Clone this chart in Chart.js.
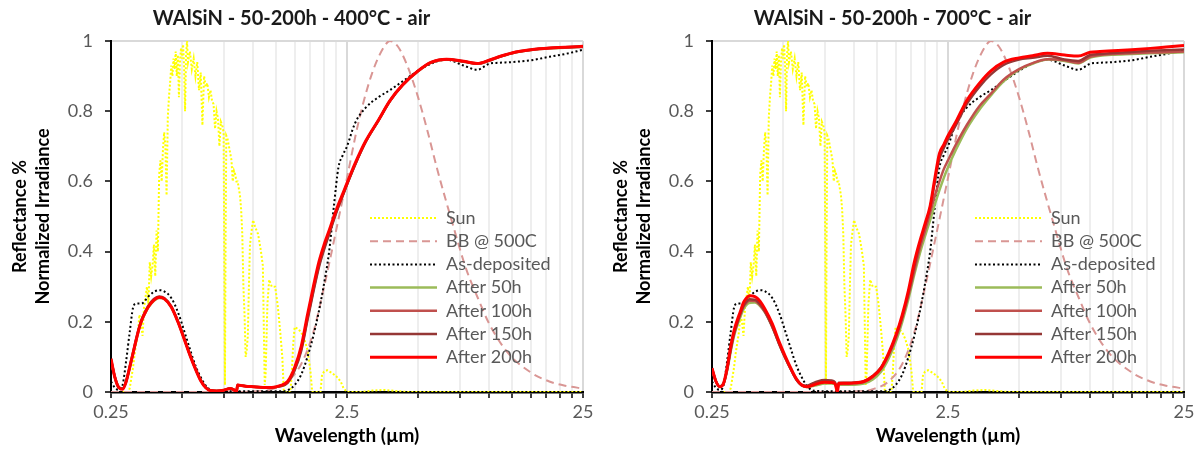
<!DOCTYPE html>
<html>
<head>
<meta charset="utf-8">
<script src="https://cdn.jsdelivr.net/npm/chart.js@4/dist/chart.umd.min.js"></script>
<style>
    body { margin: 0; background: #fff; width: 1201px; height: 450px; overflow: hidden; position: relative; }
    canvas { position: absolute; top: 0; }
    #left { left: 0; }
    #right { left: 601px; }
</style>
</head>
<body>
<canvas id="left" width="600" height="450"></canvas>
<canvas id="right" width="600" height="450"></canvas>
<script>
// x axis ticks (um), labels only on decades
const xTicks = [0.25, 0.5, 0.75, 1, 1.25, 1.5, 1.75, 2, 2.25, 2.5, 5, 7.5, 10, 12.5, 15, 17.5, 20, 22.5, 25]
const xMajor = [0.25, 2.5, 25]

// normalized solar irradiance
const sunWl = [0.28, 0.295, 0.3, 0.305, 0.31, 0.315, 0.32, 0.325, 0.33, 0.335, 0.34, 0.345, 0.35, 0.355, 0.36, 0.365, 0.37, 0.375, 0.38, 0.385, 0.39, 0.395,
    0.4, 0.405, 0.41, 0.415, 0.42, 0.425, 0.43, 0.435, 0.44, 0.445, 0.45, 0.455, 0.46, 0.465, 0.47, 0.475, 0.48, 0.485, 0.49, 0.495,
    0.5, 0.505, 0.51, 0.515, 0.52, 0.525, 0.53, 0.54, 0.55, 0.56, 0.57, 0.58, 0.59, 0.6, 0.61, 0.62, 0.63, 0.64, 0.65, 0.66, 0.67, 0.68, 0.69,
    0.7, 0.71, 0.72, 0.73, 0.74, 0.75, 0.76, 0.765, 0.77, 0.78, 0.79, 0.8, 0.81, 0.82, 0.83, 0.84, 0.85, 0.86, 0.87, 0.88, 0.89,
    0.9, 0.91, 0.92, 0.93, 0.94, 0.95, 0.96, 0.97, 0.99, 1.0, 1.02, 1.05, 1.08, 1.1, 1.12, 1.13, 1.15, 1.17, 1.2, 1.24, 1.27, 1.3, 1.33, 1.35,
    1.44, 1.46, 1.48, 1.5, 1.55, 1.6, 1.65, 1.7, 1.75, 1.78, 1.93, 1.96, 2.0, 2.06, 2.15, 2.25, 2.35, 2.42, 2.5, 2.9, 3.2, 3.6, 4.0, 4.5, 25]
const sunVal = [0, 0, 0.01, 0.04, 0.07, 0.11, 0.14, 0.17, 0.22, 0.2, 0.16, 0.24, 0.27, 0.3, 0.25, 0.37, 0.33, 0.36, 0.42, 0.33, 0.46, 0.4,
    0.62, 0.66, 0.6, 0.69, 0.74, 0.7, 0.56, 0.78, 0.84, 0.88, 0.93, 0.9, 0.95, 0.92, 0.97, 0.9, 0.96, 0.84, 0.94, 0.98,
    0.95, 0.99, 0.93, 0.8, 0.96, 1.0, 0.94, 0.97, 0.92, 0.95, 0.9, 0.94, 0.86, 0.91, 0.76, 0.9, 0.87, 0.88, 0.84, 0.86, 0.83, 0.82, 0.75,
    0.8, 0.78, 0.7, 0.77, 0.76, 0.74, 0.02, 0.45, 0.73, 0.72, 0.7, 0.68, 0.66, 0.6, 0.63, 0.62, 0.6, 0.6, 0.58, 0.56, 0.52,
    0.45, 0.3, 0.22, 0.1, 0.12, 0.16, 0.3, 0.42, 0.47, 0.49, 0.47, 0.45, 0.4, 0.36, 0.02, 0.05, 0.25, 0.32, 0.3, 0.3, 0.25, 0.18, 0.1, 0,
    0, 0.06, 0.14, 0.185, 0.18, 0.17, 0.15, 0.12, 0.06, 0, 0, 0.05, 0.058, 0.062, 0.055, 0.045, 0.03, 0.01, 0, 0, 0.004, 0.006, 0.003, 0, 0]

// black body at 500C, normalized
const bbWl = [0.25, 0.8, 1.0, 1.2, 1.4, 1.6, 1.8, 2.0, 2.2, 2.5, 2.8, 3.2, 3.6, 3.8, 4.1, 4.5, 5.0, 5.5, 6.0, 7.0, 8.0, 9.0, 10, 12, 15, 18, 21, 25]
const bbVal = [0, 0, 0.001, 0.008, 0.03, 0.08, 0.17, 0.3, 0.43, 0.61, 0.77, 0.91, 0.985, 1.0, 0.985, 0.93, 0.84, 0.74, 0.64, 0.48, 0.35, 0.265, 0.195, 0.112, 0.056, 0.03, 0.018, 0.01]

// reflectance wavelength grid (um)
const reflWl = [0.25, 0.26, 0.27, 0.28, 0.29, 0.3, 0.31, 0.32, 0.33, 0.34, 0.35, 0.36, 0.38, 0.4, 0.42, 0.45, 0.48, 0.51, 0.54, 0.57,
    0.6, 0.63, 0.66, 0.7, 0.75, 0.8, 0.83, 0.85, 0.86, 0.9, 0.95, 1.0, 1.1, 1.2, 1.3, 1.4, 1.5, 1.6, 1.7, 1.8, 1.9,
    2.0, 2.1, 2.2, 2.3, 2.4, 2.5, 2.7, 3.0, 3.4, 3.8, 4.3, 5.0, 5.7, 6.6, 7.8, 8.9, 10, 11, 12.5, 15, 18, 21, 25]

const asDep = [0.03, 0.012, 0.006, 0.02, 0.09, 0.17, 0.24, 0.252, 0.252, 0.253, 0.262, 0.272, 0.285, 0.29, 0.287, 0.268, 0.228, 0.175, 0.122, 0.075,
    0.042, 0.018, 0.006, 0.003, 0.002, 0.002, 0.002, 0.002, 0.002, 0.002, 0.002, 0.002, 0.002, 0.002, 0.002, 0.005, 0.02, 0.05, 0.1, 0.16, 0.23,
    0.31, 0.4, 0.53, 0.64, 0.675, 0.7, 0.765, 0.81, 0.84, 0.86, 0.885, 0.915, 0.936, 0.947, 0.93, 0.918, 0.935, 0.938, 0.94, 0.945, 0.955, 0.963, 0.975]

// 400C series
const l50 = [0.09, 0.04, 0.013, 0.009, 0.03, 0.068, 0.108, 0.148, 0.183, 0.208, 0.226, 0.241, 0.26, 0.268, 0.265, 0.242, 0.201, 0.153, 0.106, 0.066,
    0.033, 0.013, 0.004, 0.003, 0.005, 0.01, 0.006, 0.001, 0.019, 0.018, 0.016, 0.015, 0.013, 0.013, 0.017, 0.028, 0.066, 0.125, 0.213, 0.292, 0.362,
    0.413, 0.455, 0.495, 0.531, 0.562, 0.592, 0.647, 0.713, 0.774, 0.829, 0.874, 0.914, 0.939, 0.947, 0.941, 0.935, 0.944, 0.954, 0.965, 0.974, 0.979, 0.981, 0.984]
const l100 = [0.092, 0.041, 0.013, 0.009, 0.031, 0.07, 0.11, 0.15, 0.185, 0.21, 0.228, 0.243, 0.262, 0.27, 0.266, 0.243, 0.201, 0.153, 0.106, 0.066,
    0.033, 0.013, 0.004, 0.003, 0.005, 0.01, 0.006, 0.001, 0.02, 0.018, 0.016, 0.015, 0.013, 0.013, 0.017, 0.028, 0.065, 0.123, 0.21, 0.29, 0.36,
    0.411, 0.453, 0.494, 0.53, 0.561, 0.592, 0.647, 0.713, 0.774, 0.829, 0.874, 0.914, 0.939, 0.947, 0.941, 0.935, 0.944, 0.954, 0.965, 0.974, 0.979, 0.981, 0.983]
const l150 = [0.093, 0.041, 0.013, 0.01, 0.032, 0.072, 0.113, 0.153, 0.188, 0.213, 0.231, 0.246, 0.265, 0.272, 0.268, 0.244, 0.202, 0.154, 0.107, 0.067,
    0.034, 0.013, 0.004, 0.003, 0.005, 0.01, 0.006, 0.001, 0.02, 0.018, 0.016, 0.015, 0.013, 0.013, 0.016, 0.026, 0.062, 0.118, 0.205, 0.285, 0.355,
    0.406, 0.449, 0.491, 0.528, 0.56, 0.591, 0.646, 0.713, 0.774, 0.829, 0.875, 0.915, 0.94, 0.948, 0.942, 0.936, 0.945, 0.955, 0.966, 0.975, 0.98, 0.982, 0.985]
const l200 = [0.095, 0.04, 0.012, 0.008, 0.03, 0.07, 0.11, 0.15, 0.185, 0.21, 0.228, 0.243, 0.262, 0.27, 0.266, 0.242, 0.2, 0.152, 0.105, 0.065,
    0.032, 0.012, 0.004, 0.003, 0.005, 0.01, 0.006, 0, 0.02, 0.018, 0.016, 0.015, 0.013, 0.013, 0.018, 0.03, 0.07, 0.13, 0.22, 0.3, 0.37,
    0.42, 0.46, 0.5, 0.535, 0.565, 0.595, 0.65, 0.715, 0.775, 0.83, 0.875, 0.915, 0.94, 0.948, 0.942, 0.936, 0.945, 0.955, 0.966, 0.975, 0.98, 0.982, 0.985]

// 700C series
const h50 = [0.065, 0.03, 0.016, 0.024, 0.062, 0.115, 0.16, 0.19, 0.215, 0.236, 0.248, 0.254, 0.255, 0.245, 0.226, 0.186, 0.14, 0.1, 0.066, 0.037,
    0.019, 0.014, 0.016, 0.02, 0.024, 0.024, 0.022, 0.01, 0.021, 0.021, 0.021, 0.021, 0.024, 0.036, 0.058, 0.095, 0.142, 0.2, 0.265, 0.335, 0.395,
    0.445, 0.49, 0.535, 0.575, 0.61, 0.64, 0.69, 0.75, 0.805, 0.845, 0.885, 0.918, 0.935, 0.947, 0.943, 0.936, 0.953, 0.958, 0.961, 0.963, 0.965, 0.966, 0.968]
const h100 = [0.066, 0.03, 0.016, 0.025, 0.065, 0.12, 0.165, 0.196, 0.222, 0.243, 0.254, 0.26, 0.259, 0.247, 0.227, 0.186, 0.139, 0.098, 0.064, 0.035,
    0.019, 0.016, 0.02, 0.026, 0.03, 0.029, 0.025, 0.008, 0.023, 0.023, 0.023, 0.024, 0.028, 0.042, 0.066, 0.104, 0.152, 0.21, 0.275, 0.345, 0.41,
    0.46, 0.51, 0.56, 0.6, 0.635, 0.66, 0.705, 0.76, 0.815, 0.85, 0.89, 0.92, 0.937, 0.948, 0.945, 0.938, 0.955, 0.96, 0.963, 0.965, 0.967, 0.968, 0.97]
const h150 = [0.067, 0.03, 0.015, 0.024, 0.066, 0.122, 0.168, 0.198, 0.224, 0.246, 0.258, 0.264, 0.263, 0.25, 0.229, 0.187, 0.139, 0.098, 0.064, 0.035,
    0.02, 0.018, 0.023, 0.03, 0.034, 0.033, 0.028, 0.006, 0.026, 0.026, 0.026, 0.027, 0.031, 0.046, 0.07, 0.108, 0.157, 0.215, 0.283, 0.358, 0.423,
    0.475, 0.525, 0.6, 0.665, 0.695, 0.72, 0.76, 0.82, 0.87, 0.905, 0.932, 0.947, 0.952, 0.958, 0.947, 0.943, 0.96, 0.963, 0.966, 0.969, 0.972, 0.974, 0.976]
const h200 = [0.068, 0.03, 0.015, 0.025, 0.07, 0.13, 0.175, 0.205, 0.23, 0.255, 0.268, 0.274, 0.272, 0.258, 0.235, 0.195, 0.145, 0.103, 0.067, 0.037,
    0.02, 0.015, 0.018, 0.024, 0.028, 0.027, 0.024, 0, 0.024, 0.025, 0.025, 0.026, 0.03, 0.045, 0.068, 0.11, 0.16, 0.22, 0.29, 0.37, 0.43,
    0.48, 0.53, 0.61, 0.68, 0.705, 0.73, 0.77, 0.83, 0.88, 0.915, 0.94, 0.952, 0.958, 0.965, 0.96, 0.957, 0.968, 0.97, 0.972, 0.975, 0.979, 0.983, 0.987]

const yTitle = ['Reflectance %', 'Normalized Irradiance']
const xTitle = 'Wavelength (µm)'

Chart.defaults.font.family = 'Lato'

const pts = (xs, ys) => xs.map((x, i) => ({x: x, y: ys[i]}))

const line = (label, xs, ys, color, width, dash, smooth, order) => ({
    label: label,
    data: pts(xs, ys),
    borderColor: color,
    borderWidth: width,
    borderDash: dash,
    borderCapStyle: 'butt',
    pointRadius: 0,
    fill: false,
    tension: smooth ? 0.4 : 0,
    cubicInterpolationMode: smooth ? 'monotone' : 'default',
    order: order
})

// legend drawn inside the plot
const insideLegend = {
    id: 'insideLegend',
    afterDatasetsDraw(chart, args, opts) {
        const ctx = chart.ctx
        ctx.save()
        ctx.font = '18px Lato'
        ctx.textBaseline = 'middle'
        ctx.textAlign = 'left'
        chart.data.datasets.forEach((ds, i) => {
            const y = opts.top + i * opts.row
            ctx.beginPath()
            ctx.strokeStyle = ds.borderColor
            ctx.lineWidth = ds.borderWidth
            ctx.setLineDash(ds.borderDash || [])
            ctx.moveTo(opts.x, y)
            ctx.lineTo(opts.x + 67, y)
            ctx.stroke()
            ctx.setLineDash([])
            ctx.fillStyle = '#595959'
            ctx.fillText(ds.label, opts.x + 76, y)
        })
        ctx.restore()
    }
}

const makeChart = (id, title, s50, s100, s150, s200, legendX) => {
    return new Chart(document.getElementById(id), {
        type: 'line',
        data: {
            datasets: [
                line('Sun', sunWl, sunVal, '#ffff00', 2, [2, 2], false, 6),
                line('BB @ 500C', bbWl, bbVal, '#d99694', 2, [8, 5], true, 5),
                line('As-deposited', reflWl, asDep, '#000000', 2, [2, 2.5], true, 4),
                line('After 50h', reflWl, s50, '#9bbb59', 2.5, [], true, 3),
                line('After 100h', reflWl, s100, '#c0504d', 2.5, [], true, 2),
                line('After 150h', reflWl, s150, '#953735', 2.5, [], true, 1),
                line('After 200h', reflWl, s200, '#ff0000', 3, [], true, 0)
            ]
        },
        options: {
            responsive: false,
            animation: false,
            events: [],
            layout: { padding: { left: 0, right: 17, top: 0, bottom: 0 } },
            plugins: {
                legend: { display: false },
                tooltip: { enabled: false },
                title: {
                    display: true,
                    text: title,
                    color: '#1a1a1a',
                    font: { size: 20, weight: 'bold', lineHeight: 1.2 },
                    padding: { top: 7, bottom: 10 }
                },
                insideLegend: { x: legendX, top: 218, row: 23.2 }
            },
            scales: {
                x: {
                    type: 'logarithmic',
                    min: 0.25,
                    max: 25,
                    afterBuildTicks: scale => {
                        scale.ticks = xTicks.map(v => ({value: v}))
                    },
                    afterFit: scale => {
                        scale.height = 58
                    },
                    ticks: {
                        autoSkip: false,
                        maxRotation: 0,
                        padding: 3,
                        color: '#595959',
                        font: { size: 18 },
                        callback: v => xMajor.includes(v) ? String(v) : ''
                    },
                    grid: {
                        color: c => xMajor.includes(c.tick.value) ? '#d9d9d9' : '#eeeeee',
                        lineWidth: 2,
                        tickColor: '#000',
                        tickLength: 6,
                        tickWidth: 1.5
                    },
                    border: { color: '#000', width: 2.5 },
                    title: {
                        display: true,
                        text: xTitle,
                        color: '#000',
                        font: { size: 19, weight: 'bold', lineHeight: 1.2 },
                        padding: { top: 0, bottom: 3 }
                    }
                },
                y: {
                    min: 0,
                    max: 1,
                    afterFit: scale => {
                        scale.width = 111
                    },
                    ticks: {
                        stepSize: 0.2,
                        padding: 12,
                        color: '#595959',
                        font: { size: 18 },
                        callback: v => String(Number(v.toFixed(1)))
                    },
                    grid: {
                        color: c => c.tick.value === 1 ? '#d9d9d9' : 'rgba(0,0,0,0)',
                        lineWidth: 2,
                        tickColor: '#000',
                        tickLength: 6,
                        tickWidth: 1.5
                    },
                    border: { color: '#000', width: 2 },
                    title: {
                        display: true,
                        text: yTitle,
                        color: '#000',
                        font: { size: 18, weight: 'bold', lineHeight: 1.3 },
                        padding: { top: 8, bottom: 0 }
                    }
                }
            }
        },
        plugins: [insideLegend]
    })
}

makeChart('left', 'WAlSiN - 50-200h - 400°C - air', l50, l100, l150, l200, 370)
makeChart('right', 'WAlSiN - 50-200h - 700°C - air', h50, h100, h150, h200, 374)
</script>
</body>
</html>
